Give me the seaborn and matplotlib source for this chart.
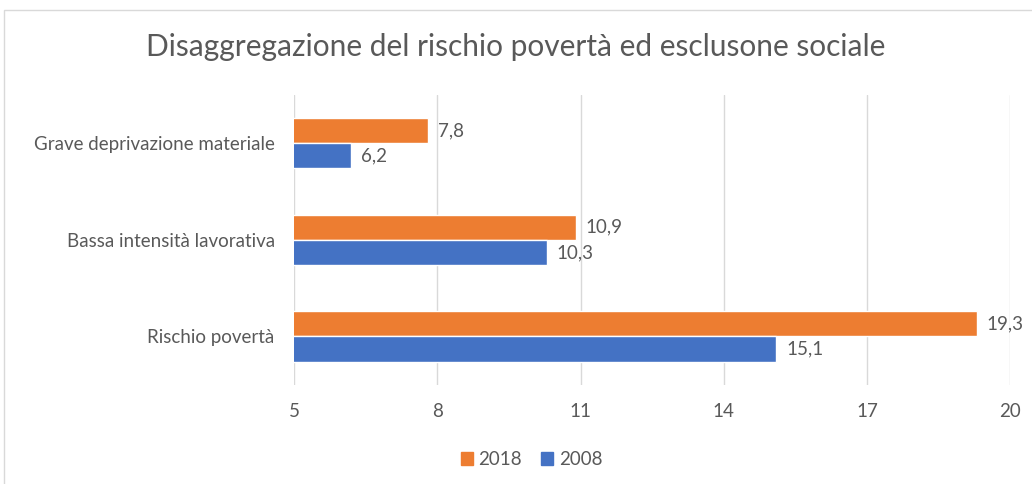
import pandas as pd
import matplotlib.pyplot as plt
import seaborn as sns
from matplotlib.patches import Rectangle

# Dati
categorie = ['Grave deprivazione materiale', 'Bassa intensità lavorativa', 'Rischio povertà']
valori_2018 = [7.8, 10.9, 19.3]
valori_2008 = [6.2, 10.3, 15.1]
anni = ['2018', '2008']
colori = ['#ED7D31', '#4472C4']
tick_x = [5, 8, 11, 14, 17, 20]

df = pd.DataFrame({
    'categoria': categorie * 2,
    'valore': valori_2018 + valori_2008,
    'anno': ['2018'] * 3 + ['2008'] * 3,
})

sns.set_style('white')
plt.rcParams['font.family'] = ['Lato', 'DejaVu Sans']
grigio = '#595959'

fig = plt.figure(figsize=(10.32, 4.84), dpi=100)
ax = fig.add_axes([0.285, 0.205, 0.694, 0.599])

sns.barplot(data=df, x='valore', y='categoria', hue='anno', hue_order=anni,
            palette=colori, orient='h', width=0.52, ax=ax, legend=False,
            saturation=1)

ax.set_xlim(5, 20)
ax.set_xticks(tick_x)
ax.set_xlabel('')
ax.set_ylabel('')
ax.tick_params(axis='x', labelsize=13.5, colors=grigio, length=0, pad=13)
ax.tick_params(axis='y', labelsize=13.5, colors=grigio, length=0, pad=14)
ax.grid(axis='x', color='#D9D9D9', linewidth=1)
ax.set_axisbelow(True)
for s in ax.spines.values():
    s.set_visible(False)

# etichette con virgola decimale
for c in ax.containers:
    ax.bar_label(c, labels=[f'{v:.1f}'.replace('.', ',') for v in c.datavalues],
                 padding=7, fontsize=13.5, color=grigio)

fig.text(0.5, 0.903, 'Disaggregazione del rischio povertà ed esclusone sociale',
         ha='center', va='center', fontsize=21.5, color=grigio)

handles = [Rectangle((0, 0), 1, 1, color=c) for c in colori]
fig.legend(handles, anni, loc='center', bbox_to_anchor=(0.515, 0.05), ncol=2,
           frameon=False, fontsize=13.5, labelcolor=grigio, handlelength=0.65,
           handleheight=0.65, columnspacing=1.0, handletextpad=0.3)

# cornice del grafico
fig.patches.append(Rectangle((4 / 1032, -0.1), 1.2, 1 - 10 / 484 + 0.1,
                             transform=fig.transFigure, fill=False,
                             edgecolor='#D9D9D9', linewidth=1))

fig.savefig('out.png', dpi=100)
